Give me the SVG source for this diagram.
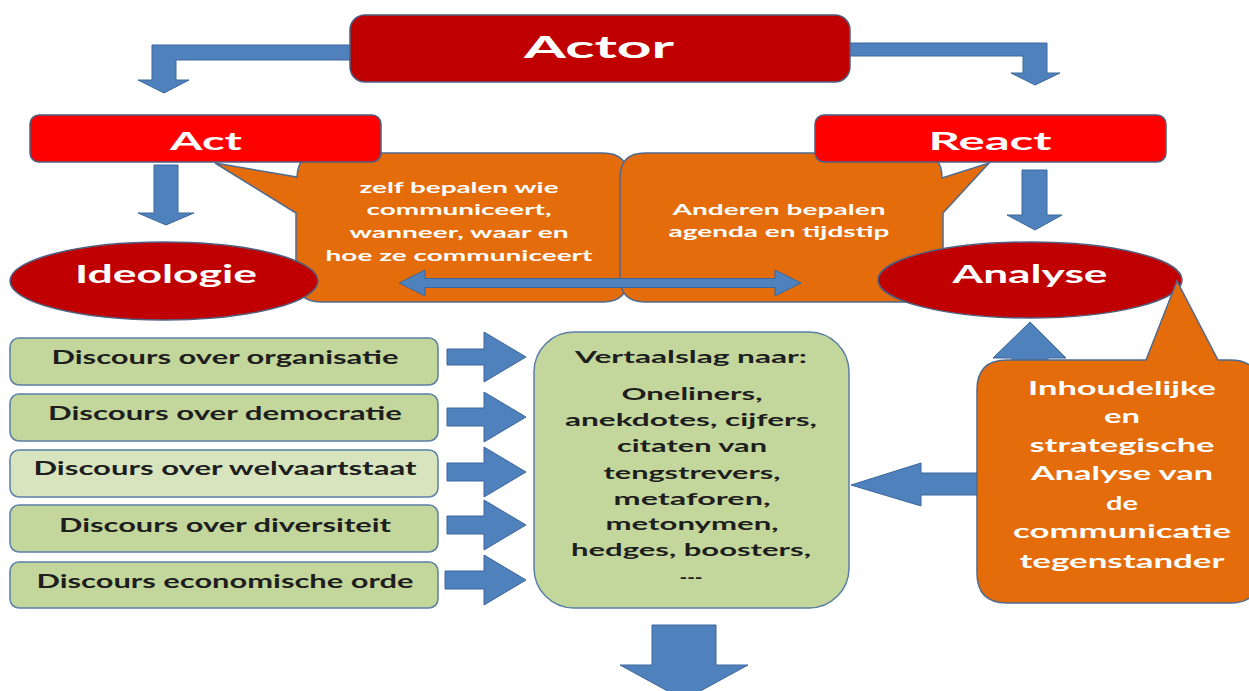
<svg xmlns="http://www.w3.org/2000/svg" width="1249" height="691" viewBox="0 0 1249 691">
<defs>
<style>
.t{font-family:Lato,"Open Sans","DejaVu Sans",sans-serif;font-weight:bold;text-anchor:middle}
.w{fill:#ffffff}
.d{fill:#1e1e1e}
.arr{fill:#4F81BD;stroke:#3C679A;stroke-width:1}
.dark{fill:#C00000;stroke:#4F5F80;stroke-width:1.5}
.red{fill:#FF0000;stroke:#4F5F80;stroke-width:1.5}
.org{fill:#E46C0A;stroke:#4F6A8E;stroke-width:1.5}
.grn{fill:#C3D69B;stroke:#5B7FA6;stroke-width:1.5}
.grl{fill:#D7E4BD;stroke:#5B7FA6;stroke-width:1.5}
</style>
</defs>
<rect x="0" y="0" width="1249" height="691" fill="#ffffff"/>

<g id="callout-zelf">
<path class="org" d="M321,153 H603 Q628,153 628,178 V277 Q628,302 603,302 H321 Q296,302 296,277 V213 L215,163 L297,177 Q298,153 321,153 Z"/>
<text class="t w" font-size="16" x="459" y="193" textLength="199" lengthAdjust="spacingAndGlyphs">zelf bepalen wie</text>
<text class="t w" font-size="16" x="459" y="215" textLength="185" lengthAdjust="spacingAndGlyphs">communiceert,</text>
<text class="t w" font-size="16" x="459" y="238" textLength="219" lengthAdjust="spacingAndGlyphs">wanneer, waar en</text>
<text class="t w" font-size="16" x="459" y="261" textLength="267" lengthAdjust="spacingAndGlyphs">hoe ze communiceert</text>
</g>
<g id="callout-anderen">
<path class="org" d="M645,153 H918 Q942,153 942,178 L989,163 L943,213 V277 Q943,302 918,302 H645 Q620,302 620,277 V178 Q620,153 645,153 Z"/>
<text class="t w" font-size="16" x="779" y="215" textLength="213" lengthAdjust="spacingAndGlyphs">Anderen bepalen</text>
<text class="t w" font-size="16" x="779" y="237" textLength="221" lengthAdjust="spacingAndGlyphs">agenda en tijdstip</text>
</g>

<g id="connectors">
<polygon class="arr" points="355,45 152,45 152,80 138,80 164,93 189,80 176,80 176,60 355,60"/>
<polygon class="arr" points="845,43 1047,43 1047,73 1060,73 1035,85 1011,73 1023,73 1023,56 845,56"/>
<polygon class="arr" points="154,165 178,165 178,213 194,213 166,225 138,213 154,213"/>
<polygon class="arr" points="1022,170 1047,170 1047,215 1062,215 1035,230 1007,215 1022,215"/>
<polygon class="arr" points="399,283 425,270 425,278.5 775,278.5 775,270 801,283 775,296 775,287.5 425,287.5 425,296"/>
<polygon class="arr" points="447,349 484,349 484,332 526,357 484,382 484,365 447,365"/>
<polygon class="arr" points="447,408 484,408 484,392 526,417 484,442 484,426 447,426"/>
<polygon class="arr" points="447,463 484,463 484,447 526,472 484,497 484,481 447,481"/>
<polygon class="arr" points="447,516 484,516 484,500 526,525 484,550 484,534 447,534"/>
<polygon class="arr" points="445,571 484,571 484,555 526,580 484,605 484,589 445,589"/>
<polygon class="arr" points="1012,375 1012,358 993,358 1030,322 1066,358 1048,358 1048,375"/>
<polygon class="arr" points="990,473 921,473 921,463 851,485 921,506 921,495 990,495"/>
<polygon class="arr" points="652,625 716,625 716,665 748,665 684,700 620,665 652,665"/>
</g>

<g id="actor">
<rect class="dark" x="350" y="15" width="500" height="67" rx="15"/>
<text class="t w" font-size="30" x="599" y="58" textLength="150" lengthAdjust="spacingAndGlyphs">Actor</text>
</g>
<g id="act">
<rect class="red" x="30" y="115" width="351" height="47" rx="9"/>
<text class="t w" font-size="25" x="206" y="150" textLength="72" lengthAdjust="spacingAndGlyphs">Act</text>
</g>
<g id="react">
<rect class="red" x="815" y="115" width="351" height="47" rx="9"/>
<text class="t w" font-size="25" x="990" y="150" textLength="123" lengthAdjust="spacingAndGlyphs">React</text>
</g>
<g id="ideologie">
<ellipse class="dark" cx="164" cy="281" rx="154" ry="39"/>
<text class="t w" font-size="24" x="166" y="283" textLength="182" lengthAdjust="spacingAndGlyphs">Ideologie</text>
</g>
<g id="analyse">
<ellipse class="dark" cx="1030" cy="280" rx="152" ry="38"/>
<text class="t w" font-size="24" x="1030" y="283" textLength="155" lengthAdjust="spacingAndGlyphs">Analyse</text>
</g>

<g id="discours-organisatie">
<rect class="grn" x="10" y="338" width="428" height="47" rx="9"/>
<text class="t d" font-size="18" x="225" y="364" textLength="347" lengthAdjust="spacingAndGlyphs">Discours over organisatie</text>
</g>
<g id="discours-democratie">
<rect class="grn" x="10" y="394" width="428" height="47" rx="9"/>
<text class="t d" font-size="18" x="225" y="420" textLength="354" lengthAdjust="spacingAndGlyphs">Discours over democratie</text>
</g>
<g id="discours-welvaartstaat">
<rect class="grl" x="10" y="450" width="428" height="47" rx="9"/>
<text class="t d" font-size="18" x="225" y="475" textLength="383" lengthAdjust="spacingAndGlyphs">Discours over welvaartstaat</text>
</g>
<g id="discours-diversiteit">
<rect class="grn" x="10" y="505" width="428" height="47" rx="9"/>
<text class="t d" font-size="18" x="225" y="532" textLength="332" lengthAdjust="spacingAndGlyphs">Discours over diversiteit</text>
</g>
<g id="discours-economische-orde">
<rect class="grn" x="10" y="562" width="428" height="46" rx="9"/>
<text class="t d" font-size="18" x="225" y="588" textLength="377" lengthAdjust="spacingAndGlyphs">Discours economische orde</text>
</g>

<g id="vertaalslag">
<rect class="grn" x="534" y="332" width="315" height="276" rx="40"/>
<text class="t d" font-size="17" x="691" y="363" textLength="232" lengthAdjust="spacingAndGlyphs">Vertaalslag naar:</text>
<text class="t d" font-size="17" x="692" y="400" textLength="141" lengthAdjust="spacingAndGlyphs">Oneliners,</text>
<text class="t d" font-size="17" x="691" y="426" textLength="252" lengthAdjust="spacingAndGlyphs">anekdotes, cijfers,</text>
<text class="t d" font-size="17" x="692" y="452" textLength="150" lengthAdjust="spacingAndGlyphs">citaten van</text>
<text class="t d" font-size="17" x="692" y="479" textLength="177" lengthAdjust="spacingAndGlyphs">tengstrevers,</text>
<text class="t d" font-size="17" x="692" y="505" textLength="157" lengthAdjust="spacingAndGlyphs">metaforen,</text>
<text class="t d" font-size="17" x="692" y="530" textLength="173" lengthAdjust="spacingAndGlyphs">metonymen,</text>
<text class="t d" font-size="17" x="691" y="556" textLength="240" lengthAdjust="spacingAndGlyphs">hedges, boosters,</text>
<text class="t d" font-size="17" x="691" y="583" textLength="23" lengthAdjust="spacingAndGlyphs">---</text>
</g>

<g id="tegenstander">
<path class="org" d="M1007,360 H1146 L1177,281 L1218,360 H1230 Q1260,360 1260,390 V573 Q1260,603 1230,603 H1007 Q977,603 977,573 V390 Q977,360 1007,360 Z"/>
<text class="t w" font-size="18" x="1122" y="395" textLength="188" lengthAdjust="spacingAndGlyphs">Inhoudelijke</text>
<text class="t w" font-size="18" x="1122" y="423" textLength="36" lengthAdjust="spacingAndGlyphs">en</text>
<text class="t w" font-size="18" x="1122" y="452" textLength="185" lengthAdjust="spacingAndGlyphs">strategische</text>
<text class="t w" font-size="18" x="1122" y="480" textLength="182" lengthAdjust="spacingAndGlyphs">Analyse van</text>
<text class="t w" font-size="18" x="1122" y="510" textLength="32" lengthAdjust="spacingAndGlyphs">de</text>
<text class="t w" font-size="18" x="1122" y="538" textLength="218" lengthAdjust="spacingAndGlyphs">communicatie</text>
<text class="t w" font-size="18" x="1122" y="568" textLength="205" lengthAdjust="spacingAndGlyphs">tegenstander</text>
</g>
</svg>
